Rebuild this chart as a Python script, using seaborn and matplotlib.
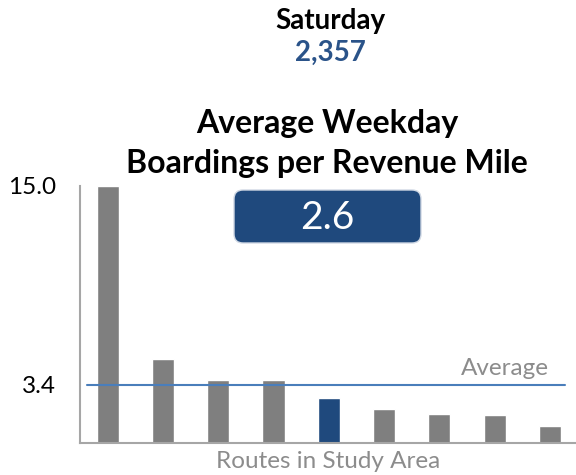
import matplotlib
matplotlib.use("Agg")
import matplotlib.pyplot as plt
from matplotlib.patches import FancyBboxPatch
import pandas as pd
import seaborn as sns

# Boardings per revenue mile by route, sorted high to low
routes = ["R1", "R2", "R3", "R4", "R5", "R6", "R7", "R8", "R9"]
boardings_per_mile = [15.0, 4.9, 3.7, 3.7, 2.6, 2.0, 1.7, 1.65, 1.0]
highlight = ["other", "other", "other", "other", "focus", "other", "other", "other", "other"]
route_average = 3.4
y_tick_values = [3.4, 15.0]
y_tick_labels = ["3.4", "15.0"]
saturday_label = "Saturday"
saturday_value = "2,357"
title_lines = ["Average Weekday", "Boardings per Revenue Mile"]
focus_value = 2.6

GRAY = "#7f7f7f"
NAVY = "#1f497d"
LINE_BLUE = "#4a7ebb"
TEXT_GRAY = "#8c8c8c"
SPINE = "#a6a6a6"

sns.set_style("white")
plt.rcParams["font.family"] = ["Lato", "DejaVu Sans"]

df = pd.DataFrame({"route": routes, "value": boardings_per_mile, "group": highlight})

W, H = 576, 475
fig = plt.figure(figsize=(W / 100, H / 100), dpi=100)
ax = fig.add_axes([80 / W, (H - 443) / H, (W - 80) / W, 257 / H])

sns.barplot(data=df, x="route", y="value", hue="group",
            palette={"other": GRAY, "focus": NAVY}, dodge=False,
            width=0.4, legend=False, ax=ax, saturation=1)

ax.set_ylim(0, 15)
ax.set_xlim(-0.5, 8.47)
ax.set_yticks(y_tick_values)
ax.set_yticklabels(y_tick_labels)
ax.set_xticks([])
ax.tick_params(axis="y", length=0, pad=17, labelsize=17.5, labelcolor="black")
ax.set_ylabel("")
ax.set_xlabel("Routes in Study Area", fontsize=17.5, color=TEXT_GRAY, labelpad=6)

for side in ["top", "right"]:
    ax.spines[side].set_visible(False)
for side in ["left", "bottom"]:
    ax.spines[side].set_color(SPINE)
    ax.spines[side].set_linewidth(1.5)

# Average reference line with its label
ax.axhline(route_average, xmin=0.0135, xmax=0.978, color=LINE_BLUE, lw=1.5)
ax.annotate("Average", xy=(0.946, route_average),
            xycoords=("axes fraction", "data"), xytext=(0, 4),
            textcoords="offset points", ha="right", va="bottom",
            fontsize=17.5, color=TEXT_GRAY)

# Header text and the highlighted value box, placed in pixel space
ov = fig.add_axes([0, 0, 1, 1], facecolor="none")
ov.set_xlim(0, W)
ov.set_ylim(H, 0)
ov.axis("off")

ov.text(330, 21, saturday_label, ha="center", va="center",
        fontsize=20, fontweight="bold", color="black")
ov.text(330, 53, saturday_value, ha="center", va="center",
        fontsize=20, fontweight="bold", color="#2a5389")
ov.text(327, 123, title_lines[0], ha="center", va="center",
        fontsize=23, fontweight="bold", color="black")
ov.text(327, 163, title_lines[1], ha="center", va="center",
        fontsize=23, fontweight="bold", color="black")

box = FancyBboxPatch((234, 190), 187, 53,
                     boxstyle="round,pad=0,rounding_size=9",
                     facecolor=NAVY, edgecolor="#d0d8e4", linewidth=1)
ov.add_patch(box)
ov.text(327, 218, f"{focus_value:.1f}", ha="center", va="center",
        fontsize=28, color="white")

fig.savefig("out.png", dpi=100)
